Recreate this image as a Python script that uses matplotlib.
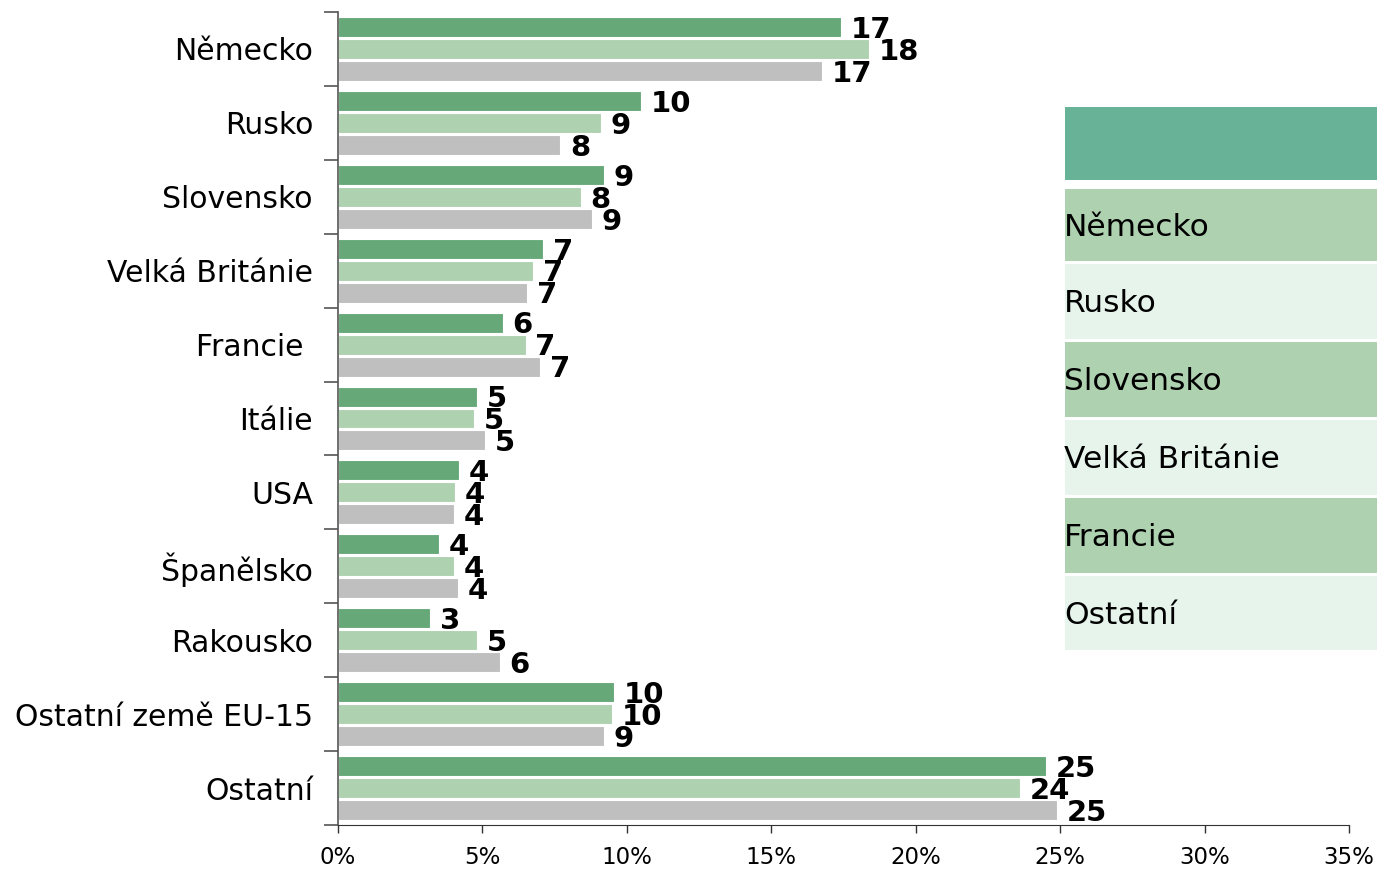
import numpy as np
import matplotlib
matplotlib.use("Agg")
import matplotlib.pyplot as plt
from matplotlib.patches import Rectangle

# categories, top to bottom
countries = ['Německo', 'Rusko', 'Slovensko', 'Velká Británie', 'Francie ', 'Itálie',
             'USA', 'Španělsko', 'Rakousko', 'Ostatní země EU-15', 'Ostatní']

# shares in %
series_a = [17.4, 10.5, 9.2, 7.1, 5.7, 4.8, 4.2, 3.5, 3.2, 9.55, 24.5]
series_b = [18.4, 9.1, 8.4, 6.75, 6.5, 4.7, 4.05, 4.0, 4.8, 9.5, 23.6]
series_c = [16.75, 7.7, 8.8, 6.55, 7.0, 5.1, 4.0, 4.15, 5.6, 9.2, 24.9]

# printed labels next to the bars
labels_a = [17, 10, 9, 7, 6, 5, 4, 4, 3, 10, 25]
labels_b = [18, 9, 8, 7, 7, 5, 4, 4, 5, 10, 24]
labels_c = [17, 8, 9, 7, 7, 5, 4, 4, 6, 9, 25]

xticks = [0, 5, 10, 15, 20, 25, 30, 35]

# the box on the right
table_rows = ['', 'Německo', 'Rusko', 'Slovensko', 'Velká Británie', 'Francie', 'Ostatní']
table_colors = ['#68b398', '#aed1b0', '#e6f4ec', '#aed1b0', '#e6f4ec', '#aed1b0', '#e6f4ec']

colors = ['#67a878', '#aed1b0', '#bfbfbf']

W, H = 1377, 871
fig = plt.figure(figsize=(W / 100, H / 100), dpi=100)
ax = fig.add_axes([338 / W, 46 / H, (1349 - 338) / W, (825 - 12) / H])

y = np.arange(len(countries))
step = 0.297
bh = 0.27
for k, (vals, labs) in enumerate([(series_a, labels_a), (series_b, labels_b), (series_c, labels_c)]):
    pos = y + (k - 1) * step
    ax.barh(pos, vals, height=bh, color=colors[k], edgecolor='white', linewidth=0.8, zorder=2)
    for p, v, lab in zip(pos, vals, labs):
        ax.annotate(str(lab), (v, p), xytext=(7, -2), textcoords='offset points',
                    ha='left', va='center', fontsize=21, fontweight='bold', color='black')

ax.set_ylim(len(countries) - 0.5, -0.5)
ax.set_xlim(0, 35)
ax.set_yticks(y)
ax.set_yticklabels(countries, fontsize=21.5)
ax.set_yticks(np.arange(-0.5, len(countries), 1), minor=True)
ax.tick_params(axis='y', which='major', length=0, pad=18)
ax.tick_params(axis='y', which='minor', length=10, width=1.2, color='#555555')
ax.set_xticks(xticks)
ax.set_xticklabels([f'{t}%' for t in xticks], fontsize=16.5)
ax.tick_params(axis='x', length=6, width=1, pad=9, color='#333333')

for s in ['top', 'right']:
    ax.spines[s].set_visible(False)
ax.spines['left'].set_color('#555555')
ax.spines['left'].set_linewidth(1.2)
ax.spines['bottom'].set_color('#333333')

# table-like box on the right side
tops = [107, 189, 264, 342, 420, 498, 576]
bots = [180, 261, 339, 417, 495, 573, 650]
for name, col, t, b in zip(table_rows, table_colors, tops, bots):
    fig.patches.append(Rectangle((1065 / W, 1 - b / H), (W - 1065) / W, (b - t) / H,
                                 transform=fig.transFigure, facecolor=col, edgecolor='none'))
    if name:
        fig.text(1064 / W, 1 - ((t + b) / 2 + 2) / H, name, fontsize=22.5, ha='left', va='center')

fig.savefig('out.png', dpi=100)
